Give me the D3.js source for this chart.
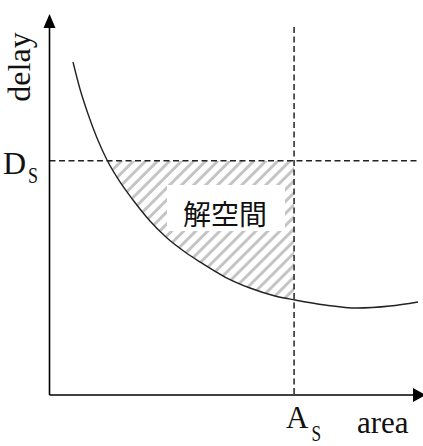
<!DOCTYPE html>
<html>
<head>
<meta charset="utf-8">
<script src="https://cdn.jsdelivr.net/npm/d3@7"></script>
<style>
  html, body { margin: 0; padding: 0; background: #fff; }
  svg { display: block; }
</style>
</head>
<body>
<svg id="chart" width="423" height="446"></svg>
<script>
// ---- data ----
const areaVals  = [6.35, 8.24, 10.41, 12.84, 15.54, 19.05, 22.57, 27.16, 31.76, 36.62, 40.68, 47.43, 54.19, 60.95, 66.35, 74.46, 83.11, 92.03, 99.59];
const delayVals = [90.0, 82.7, 75.95, 69.46, 63.51, 57.57, 52.70, 47.03, 42.43, 38.65, 35.95, 31.89, 28.92, 26.76, 25.68, 24.32, 23.51, 24.05, 25.14];
const A_S = 66.1;   // area constraint
const D_S = 63.3;   // delay constraint
const xLabel = "area";
const yLabel = "delay";
const regionLabel = "解空間";

// ---- scales ----
const svg = d3.select("#chart");
const x = d3.scaleLinear().domain([0, 100]).range([49.5, 419.5]);
const y = d3.scaleLinear().domain([0, 100]).range([395, 25]);

const pts = areaVals.map((a, i) => [a, delayVals[i]]);

// ---- hatch pattern & clip ----
const defs = svg.append("defs");
const pat = defs.append("pattern")
  .attr("id", "hatch")
  .attr("patternUnits", "userSpaceOnUse")
  .attr("width", 8.5).attr("height", 8.5)
  .attr("patternTransform", "rotate(45)");
pat.append("line")
  .attr("x1", 4.25).attr("y1", -1).attr("x2", 4.25).attr("y2", 10)
  .attr("stroke", "#c4c4c4").attr("stroke-width", 3);

defs.append("clipPath").attr("id", "solclip")
  .append("rect")
  .attr("x", x(0)).attr("y", y(D_S))
  .attr("width", x(A_S) - x(0)).attr("height", y(0) - y(D_S));

const area = d3.area()
  .x(d => x(d[0]))
  .y0(y(D_S))
  .y1(d => y(d[1]))
  .curve(d3.curveMonotoneX);

svg.append("path")
  .datum(pts)
  .attr("d", area)
  .attr("fill", "url(#hatch)")
  .attr("clip-path", "url(#solclip)");

// ---- label box ----
svg.append("rect")
  .attr("x", 167).attr("y", 185).attr("width", 118).attr("height", 46)
  .attr("fill", "#fff");
svg.append("text")
  .attr("x", 225).attr("y", 213)
  .attr("text-anchor", "middle")
  .attr("dominant-baseline", "central")
  .attr("font-family", "'Noto Sans CJK JP', 'Noto Sans CJK SC', sans-serif")
  .attr("font-size", 28)
  .attr("fill", "#111")
  .text(regionLabel);

// ---- dashed constraint lines ----
svg.append("line")
  .attr("x1", x(0)).attr("x2", 417)
  .attr("y1", y(D_S)).attr("y2", y(D_S))
  .attr("stroke", "#222").attr("stroke-width", 1.5)
  .attr("stroke-dasharray", "6,3.5");
svg.append("line")
  .attr("x1", x(A_S)).attr("x2", x(A_S))
  .attr("y1", 27).attr("y2", y(0))
  .attr("stroke", "#222").attr("stroke-width", 1.5)
  .attr("stroke-dasharray", "6,3.5");

// ---- curve ----
const line = d3.line()
  .x(d => x(d[0]))
  .y(d => y(d[1]))
  .curve(d3.curveMonotoneX);
svg.append("path")
  .datum(pts)
  .attr("d", line)
  .attr("fill", "none")
  .attr("stroke", "#222")
  .attr("stroke-width", 1.4);

// ---- axes ----
const x0 = x(0), y0 = y(0);
svg.append("line")
  .attr("x1", x0).attr("y1", y0).attr("x2", x0).attr("y2", 27)
  .attr("stroke", "#000").attr("stroke-width", 1.6);
svg.append("path")
  .attr("d", `M${x0},14 L${x0 - 6},28 L${x0 + 6},28 Z`)
  .attr("fill", "#000");
svg.append("line")
  .attr("x1", x0).attr("y1", y0).attr("x2", 414).attr("y2", y0)
  .attr("stroke", "#000").attr("stroke-width", 1.6);
svg.append("path")
  .attr("d", `M426,${y0} L413,${y0 - 7} L413,${y0 + 7} Z`)
  .attr("fill", "#000");

// ---- text labels ----
const serif = "'Liberation Serif', 'DejaVu Serif', serif";
svg.append("text")
  .attr("transform", `translate(30,67) rotate(-90)`)
  .attr("text-anchor", "middle")
  .attr("font-family", serif).attr("font-size", 32).attr("fill", "#111")
  .text(yLabel);

svg.append("text")
  .attr("x", 357).attr("y", 433)
  .attr("font-family", serif).attr("font-size", 31).attr("fill", "#111")
  .text(xLabel);

// D_S
svg.append("text")
  .attr("x", 3).attr("y", 174)
  .attr("font-family", serif).attr("font-size", 32).attr("fill", "#111")
  .text("D");
svg.append("text")
  .attr("transform", "translate(28,183) scale(0.75,1)")
  .attr("font-family", serif).attr("font-size", 24).attr("fill", "#111")
  .text("S");

// A_S
svg.append("text")
  .attr("x", 286).attr("y", 428)
  .attr("font-family", serif).attr("font-size", 31).attr("fill", "#111")
  .text("A");
svg.append("text")
  .attr("transform", "translate(311.5,441) scale(0.75,1)")
  .attr("font-family", serif).attr("font-size", 23).attr("fill", "#111")
  .text("S");
</script>
</body>
</html>
